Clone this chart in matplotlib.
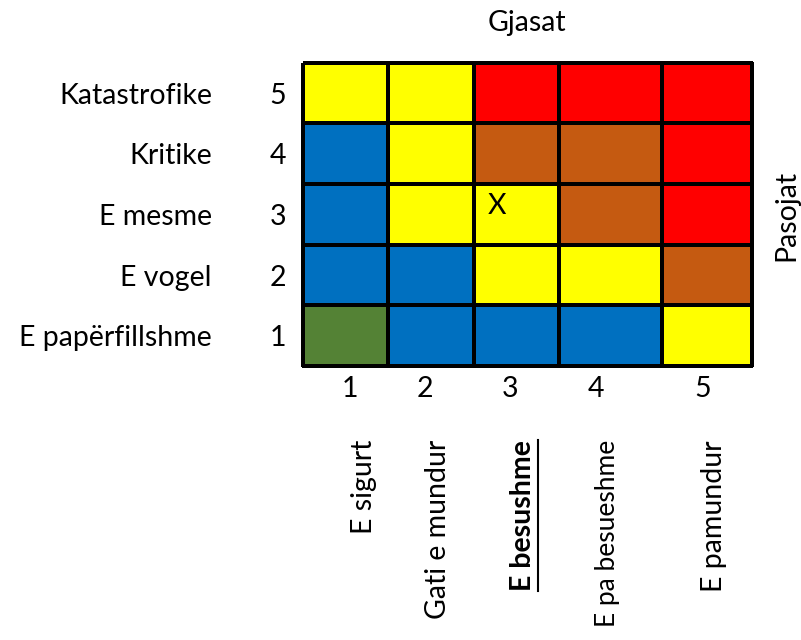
import numpy as np
import matplotlib
matplotlib.use('Agg')
import matplotlib.pyplot as plt
from matplotlib.colors import ListedColormap

plt.rcParams['font.family'] = ['Lato', 'DejaVu Sans']

# te dhenat
likelihood_labels = ['E sigurt', 'Gati e mundur', 'E besushme', 'E pa besueshme', 'E pamundur']
likelihood_scores = [1, 2, 3, 4, 5]
impact_labels = ['Katastrofike', 'Kritike', 'E mesme', 'E vogel', 'E papërfillshme']
impact_scores = [5, 4, 3, 2, 1]
# 0 jeshile, 1 blu, 2 verdhe, 3 kafe, 4 kuqe  (rreshtat nga lart poshte)
risk_level = [[2, 2, 4, 4, 4],
              [1, 2, 3, 3, 4],
              [1, 2, 2, 3, 4],
              [1, 1, 2, 2, 3],
              [0, 1, 1, 1, 2]]
marked_cell = (3, 3)   # (gjasat, pasojat)
highlight = 'E besushme'
level_colors = ['#548235', '#0070C0', '#FFFF00', '#C55A11', '#FF0000']

# pozicionet ne piksela
col_edges = [303, 388, 474, 559, 662, 752]
row_edges = [63, 123, 184, 245, 305, 366]
num_x = [350, 425, 510, 596, 703]
name_x = [364, 438, 523, 608, 714]
fs = 20.5

fig = plt.figure(figsize=(8.01, 6.4), dpi=100)
ax = fig.add_axes([0, 0, 1, 1])
ax.set_xlim(0, 801)
ax.set_ylim(640, 0)
ax.axis('off')

ax.pcolormesh(col_edges, row_edges, np.array(risk_level), cmap=ListedColormap(level_colors),
              vmin=-0.5, vmax=4.5, edgecolors='black', linewidth=1.6)

# shenja X
ci = likelihood_scores.index(marked_cell[0])
ri = impact_scores.index(marked_cell[1])
ax.text(col_edges[ci] + 23, (row_edges[ri] + row_edges[ri + 1]) / 2 - 8, 'X',
        ha='center', va='center', fontsize=fs)

# pasojat
for i, (lab, sc) in enumerate(zip(impact_labels, impact_scores)):
    yb = row_edges[i] + 41
    ax.text(212, yb, lab, ha='right', va='baseline', fontsize=fs)
    ax.text(278, yb, str(sc), ha='center', va='baseline', fontsize=fs)

# gjasat
for j, (lab, sc) in enumerate(zip(likelihood_labels, likelihood_scores)):
    ax.text(num_x[j], 397, str(sc), ha='center', va='baseline', fontsize=fs)
    bold = lab == highlight
    size = fs if len(lab) < 14 else fs - 1.5
    t = ax.text(name_x[j], 440, lab, rotation=90, ha='center', va='top', fontsize=size,
                fontweight='bold' if bold else 'normal')
    if bold:
        fig.canvas.draw()
        bb = t.get_window_extent().transformed(ax.transData.inverted())
        ax.plot([538, 538], [min(bb.y0, bb.y1), max(bb.y0, bb.y1)], color='black', lw=1.5)

ax.text(527, 31, 'Gjasat', ha='center', va='baseline', fontsize=fs)
ax.text(786, 215, 'Pasojat', rotation=90, ha='center', va='center', fontsize=fs)

fig.savefig('out.png', dpi=100)
